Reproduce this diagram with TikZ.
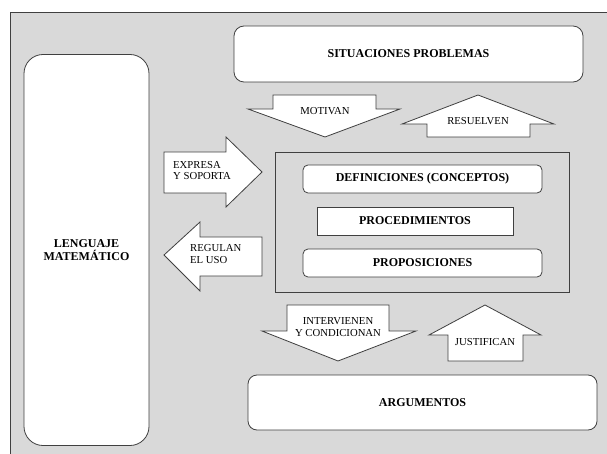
\documentclass[tikz,border=0pt]{standalone}
\usepackage{fontspec}
\setmainfont{Liberation Serif}
\definecolor{bg}{HTML}{D9D9D9}
\definecolor{ln}{HTML}{404040}
\begin{document}
\begin{tikzpicture}[x=1pt,y=-1pt,
  box/.style={draw=ln, fill=white, line width=0.8pt, inner sep=0pt,
    font=\bfseries\fontsize{12}{12.5}\selectfont, align=center},
  blk/.style={draw=ln, fill=white, line width=0.8pt, line join=miter},
  lbl/.style={font=\fontsize{10.7}{11.5}\selectfont, inner sep=0pt}]
\useasboundingbox (0,0) rectangle (607,454);
\clip (0,0) rectangle (607,454);
\fill[white] (0,0) rectangle (607,454);
\draw[ln, fill=bg, line width=0.8pt] (10,12) rectangle (620,470);

% main boxes
\node[box, rounded corners=10pt, minimum width=349pt, minimum height=56pt] (sit) at (408.5,54) {SITUACIONES PROBLEMAS};
\node[box, rounded corners=19pt, minimum width=125pt, minimum height=391pt] (len) at (86.5,250) {LENGUAJE\\MATEM\'ATICO};
\node[box, fill=bg, minimum width=294pt, minimum height=140pt] (core) at (422,222) {};
\node[box, rounded corners=5pt, minimum width=239pt, minimum height=28pt] (def) at (422.5,179) {DEFINICIONES (CONCEPTOS)};
\node[box, minimum width=196pt, minimum height=28pt] (proc) at (415,221) {PROCEDIMIENTOS};
\node[box, rounded corners=5pt, minimum width=239pt, minimum height=28pt] (prop) at (422.5,263) {PROPOSICIONES};
\node[box, rounded corners=9pt, minimum width=349pt, minimum height=55pt] (arg) at (422.5,402.5) {ARGUMENTOS};

% block arrows
\draw[blk] (273,95) -- (376,95) -- (376,109) -- (400,109) -- (325,137) -- (248,109) -- (273,109) -- cycle;
\node[lbl] (motivan) at (325,111) {MOTIVAN};

\draw[blk] (478,95) -- (554,124) -- (530,124) -- (530,137) -- (427,137) -- (427,124) -- (402,124) -- cycle;
\node[lbl] (resuelven) at (478,121) {RESUELVEN};

\draw[blk] (164,152) -- (226,152) -- (226,137) -- (262,172) -- (226,207) -- (226,193) -- (164,193) -- cycle;
\node[lbl, align=left, anchor=west] (expresa) at (173,170.5) {EXPRESA\\Y SOPORTA};

\draw[blk] (164,255) -- (200,222) -- (200,237) -- (262,237) -- (262,276) -- (200,276) -- (200,291) -- cycle;
\node[lbl, align=left, anchor=west] (regulan) at (190,254) {REGULAN\\EL USO};

\draw[blk] (287,305) -- (389,305) -- (389,331) -- (416,331) -- (338,361) -- (262,331) -- (287,331) -- cycle;
\node[lbl, align=center] (intervienen) at (338,327) {INTERVIENEN\\Y CONDICIONAN};

\draw[blk] (485,305) -- (541,335) -- (523,335) -- (523,361) -- (448,361) -- (448,335) -- (429,335) -- cycle;
\node[lbl] (justifican) at (485,342) {JUSTIFICAN};
\end{tikzpicture}
\end{document}
